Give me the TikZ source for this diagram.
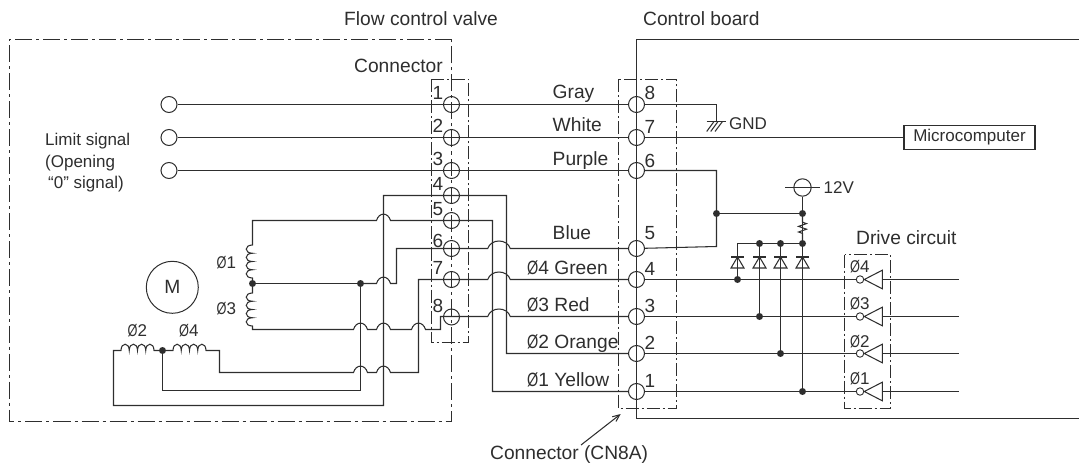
\documentclass[tikz,border=0pt]{standalone}
\usepackage{fontspec}
\usepackage{graphicx}
\setmainfont{Liberation Sans}
\usetikzlibrary{arrows.meta,decorations.pathmorphing}

\definecolor{ink}{HTML}{2E2E2E}
\newcommand{\ph}{\scalebox{.75}[1]{Ø}}
\newcommand{\hop}[2]{-- (#1-7,#2) .. controls (#1-4.5,#2-8.5) and (#1+4.5,#2-8.5) .. (#1+7,#2)}
\newcommand{\widehop}[2]{-- (#1-11.3,#2) .. controls (#1-8,#2-10) and (#1+8,#2-10) .. (#1+11.3,#2)}
\newcommand{\humpv}{to[out=180,in=180,looseness=2.6] ++(0,-8.25)}
\newcommand{\humpvd}{to[out=180,in=180,looseness=2.6] ++(0,8.25)}
\newcommand{\humph}{to[out=90,in=90,looseness=2.6] ++(8.25,0)}

\tikzset{
  wire/.style={draw=ink, line width=1.05pt},
  chain/.style={draw=ink, line width=1.05pt, dash pattern=on 17pt off 4pt on 3pt off 4pt},
  box/.style={draw=ink, line width=1.05pt, dash pattern=on 13pt off 3pt on 2pt off 3pt},
  term/.style={circle, draw=ink, line width=1pt, minimum size=16pt, inner sep=0pt},
  junc/.style={circle, fill=ink, minimum size=7pt, inner sep=0pt},
  txt/.style={anchor=base west, inner sep=0pt, text=ink, font=\fontsize{19.2}{21}\selectfont},
  small/.style={anchor=base west, inner sep=0pt, text=ink, font=\fontsize{17}{20}\selectfont},
  num/.style={inner sep=0pt, text=ink, font=\fontsize{19}{21}\selectfont},
  inverter/.pic={
    \node[circle, draw=ink, line width=.9pt, minimum size=7.5pt, inner sep=0pt] (-b) at (0,0) {};
    \coordinate (-o) at (22.3,0);
    \draw[wire] (4.3,0) -- (22.3,-9.3) -- (22.3,9.3) -- cycle;
  },
  diode/.pic={
    \draw[wire] (-6.5,-5.5) -- (6.5,-5.5);
    \draw[wire] (0,-5.5) -- (-6.5,5.5) -- (6.5,5.5) -- cycle;
  }
}

\begin{document}
\begin{tikzpicture}[x=1pt,y=-1pt]
      \useasboundingbox (0,0) rectangle (1079,465);

      % frames
      \draw[chain] (451.5,39.5) -- (9.5,39.5) -- (9.5,421.5) -- (451.5,421.5) -- cycle;
      \draw[box] (431.5,79.5) rectangle (468.5,342.5);
      \draw[box] (618.5,79.5) rectangle (676.5,408.5);
      \draw[box] (844.5,254.5) rectangle (890.5,408.5);
      \draw[wire] (1079,39.5) -- (636.5,39.5) -- (636.5,418.5) -- (1079,418.5);

      % valve side terminals
      \node[term] (t1) at (169,104.5) {};
      \node[term] (t2) at (169,137.5) {};
      \node[term] (t3) at (169,170.5) {};
      \node[term] (v1) at (451.5,104.5) {};
      \node[term] (v2) at (451.5,137.5) {};
      \node[term] (v3) at (451.5,170.5) {};
      \node[term] (v4) at (451.5,195.5) {};
      \node[term] (v5) at (451.5,220.5) {};
      \node[term] (v6) at (451.5,248.5) {};
      \node[term] (v7) at (451.5,279.5) {};
      \node[term] (v8) at (451.5,317) {};

      % board side terminals
      \node[term] (b8) at (636.5,104.5) {};
      \node[term] (b7) at (636.5,137.5) {};
      \node[term] (b6) at (636.5,170.5) {};
      \node[term] (b5) at (636.5,248.5) {};
      \node[term] (b4) at (636.5,279.5) {};
      \node[term] (b3) at (636.5,316.5) {};
      \node[term] (b2) at (636.5,353.5) {};
      \node[term] (b1) at (636.5,391.5) {};

      % junctions
      \node[junc] (j1) at (716.5,213.5) {};
      \node[junc] (j2) at (802.5,213.5) {};
      \node[junc] (j3) at (252.5,283.5) {};
      \node[junc] (j4) at (162.5,350.5) {};
      \node[junc] (j5) at (360.5,283.5) {};
      \node[junc] (d1) at (759.5,243.5) {};
      \node[junc] (d2) at (780.5,243.5) {};
      \node[junc] (d3) at (802.5,243.5) {};
      \node[junc] (w4) at (737.5,279.5) {};
      \node[junc] (w3) at (759.5,316.5) {};
      \node[junc] (w2) at (780.5,353.5) {};
      \node[junc] (w1) at (802.5,391.5) {};

      % other blocks
      \node[circle, draw=ink, line width=1pt, minimum size=52pt, inner sep=0pt] (mot) at (172.3,287.3) {};
      \node[inner sep=0pt, text=ink, font=\fontsize{19.2}{21}\selectfont] at (mot) {M};
      \node[draw=ink, line width=1.05pt, minimum width=131pt, minimum height=24pt, inner sep=0pt, text=ink, font=\fontsize{17}{20}\selectfont] (mc) at (969.5,137.5) {Microcomputer};
      \node[circle, draw=ink, line width=1pt, minimum size=17.4pt, inner sep=0pt] (pw) at (802.5,187.5) {};
      \coordinate (pwl) at (785,187.5);
      \coordinate (pwr) at (820,187.5);
      \coordinate (gnd) at (716.5,121.5);
      \coordinate (r4) at (959,279.5);
      \coordinate (r3) at (959,316.5);
      \coordinate (r2) at (959,353.5);
      \coordinate (r1) at (959,391.5);

      \pic (i4) at (860,279.5) {inverter};
      \pic (i3) at (860,316.5) {inverter};
      \pic (i2) at (860,353.5) {inverter};
      \pic (i1) at (860,391.5) {inverter};
      \pic at (737.5,262.5) {diode};
      \pic at (759.5,262.5) {diode};
      \pic at (780.5,262.5) {diode};
      \pic at (802.5,262.5) {diode};

      % wires
      \begin{scope}[every path/.style={wire}]
        \draw (t1) -- (b8);
        \draw (t2) -- (b7);
        \draw (t3) -- (b6);
        \draw (b7) -- (mc);
        \draw (b8) -- (716.5,104.5) -- (gnd);
        \draw (b6) -- (716.5,170.5) -- (716.5,246.5) -- (b5);
        \draw (j1) -- (j2);
        \draw (pw) -- (j2);
        \draw (pwl) -- (pwr);
        \draw[decoration={zigzag,amplitude=4,segment length=5.6,pre length=5,post length=4},decorate] (j2) -- (d3);
        \draw (737.5,262.5) -- (737.5,243.5) -- (d3);
        \draw (d1) -- (w3);
        \draw (d2) -- (w2);
        \draw (j2) -- (w1);
        \draw (737.5,262.5) -- (w4);
        \draw (b4) -- (i4-b);
        \draw (b3) -- (i3-b);
        \draw (b2) -- (i2-b);
        \draw (b1) -- (i1-b);
        \draw (i4-o) -- (r4);
        \draw (i3-o) -- (r3);
        \draw (i2-o) -- (r2);
        \draw (i1-o) -- (r1);

        % motor windings
        \draw (j3) -- (252.5,278) \humpv \humpv \humpv \humpv -- (252.5,220.5) \hop{383.5}{220.5} -- (492.5,220.5) -- (492.5,391.5) -- (b1);
        \draw (j3) -- (252.5,293) \humpvd \humpvd \humpvd \humpvd -- (252.5,329.5) \hop{360.5}{329.5} \hop{383.5}{329.5} \hop{418.5}{329.5} -- (440.5,329.5) -- (440.5,316.5) \widehop{499}{316.5} -- (b3);
        \draw (b2) -- (506.5,353.5) -- (506.5,195.5) -- (383.5,195.5) -- (383.5,405.5) -- (113.5,405.5) -- (113.5,350.5) -- (121,350.5) \humph \humph \humph \humph -- (j4);
        \draw (j4) -- (173,350.5) \humph \humph \humph \humph -- (219.5,350.5) -- (219.5,372.5) \hop{360.5}{372.5} \hop{383.5}{372.5} -- (418.5,372.5) -- (418.5,279.5) \widehop{499}{279.5} -- (b4);
        \draw (j3) -- (j5);
        \draw (j5) \hop{383.5}{283.5} -- (396.5,283.5) -- (396.5,248.5) \widehop{499}{248.5} -- (b5);
        \draw (j5) -- (360.5,390.5) -- (162.5,390.5) -- (j4);

        % ground hatch
        \draw (706.7,121.5) -- (726,121.5);
        \draw (706.7,131.5) -- (714,121.5);
        \draw (710.7,131.5) -- (718,121.5);
        \draw (715,131.5) -- (722.5,121.5);
      \end{scope}

      % titles and labels
      \node[txt] at (344,26) {Flow control valve};
      \node[txt] at (643,26) {Control board};
      \node[txt] at (354,72.7) {Connector};
      \node[small] at (45,146) {Limit signal};
      \node[small] at (45,167.7) {(Opening};
      \node[small] at (48,189) {“0” signal)};
      \node[txt] at (552.5,98.3) {Gray};
      \node[txt] at (552.5,131.7) {White};
      \node[txt] at (552.5,165.7) {Purple};
      \node[txt] at (552.5,240) {Blue};
      \node[txt] at (527,274) {\ph 4 Green};
      \node[txt] at (527,311.7) {\ph 3 Red};
      \node[txt] at (527,348.5) {\ph 2 Orange};
      \node[txt] at (527,386.7) {\ph 1 Yellow};
      \node[small] at (729,130) {GND};
      \node[small] at (823.5,193.5) {12V};
      \node[txt] at (856,244) {Drive circuit};
      \node[small] at (850,272.5) {\ph 4};
      \node[small] at (850,309) {\ph 3};
      \node[small] at (850,347) {\ph 2};
      \node[small] at (850,384) {\ph 1};
      \node[small] at (216.5,269) {\ph 1};
      \node[small] at (216.5,314) {\ph 3};
      \node[small] at (127.5,336.7) {\ph 2};
      \node[small] at (179,336.7) {\ph 4};

      \node[num] at (438,93.3) {1};
      \node[num] at (438,126) {2};
      \node[num] at (438,159) {3};
      \node[num] at (438,184) {4};
      \node[num] at (438,209.3) {5};
      \node[num] at (438,240.7) {6};
      \node[num] at (438,268.3) {7};
      \node[num] at (438,306) {8};
      \node[num] at (650,93) {8};
      \node[num] at (650,127) {7};
      \node[num] at (650,160.7) {6};
      \node[num] at (650,233) {5};
      \node[num] at (650,269) {4};
      \node[num] at (650,306) {3};
      \node[num] at (650,343) {2};
      \node[num] at (650,380.7) {1};

      \node[txt] (cn) at (490,459) {Connector (CN8A)};
      \coordinate (cnt) at (581,445);
      \draw[wire, -{Straight Barb[length=7pt,width=6pt]}] (cnt) -- (620.7,414);

\end{tikzpicture}
\end{document}
